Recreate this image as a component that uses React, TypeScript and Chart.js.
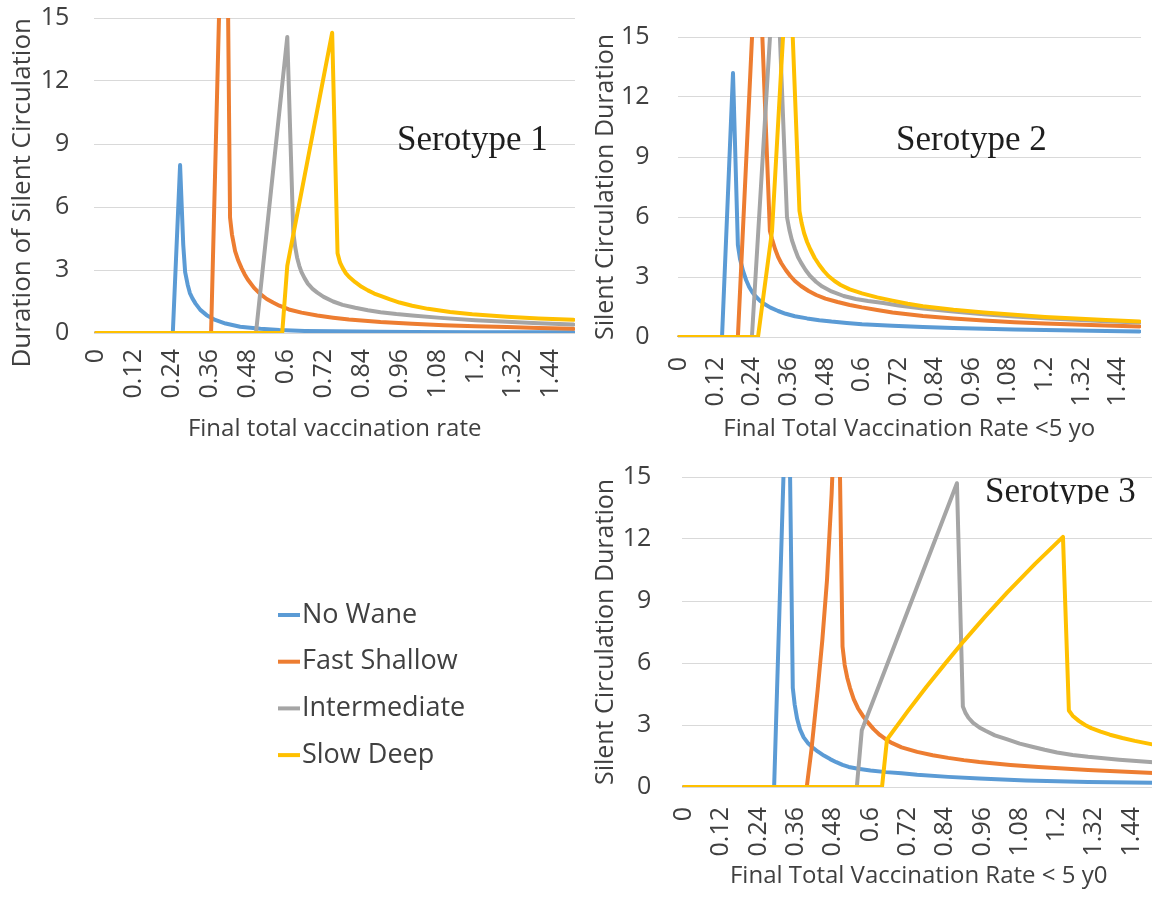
import React, { useEffect, useRef } from 'react';
import { Chart, registerables } from 'chart.js';

Chart.register(...registerables);

const FONT = '"Open Sans", "DejaVu Sans", sans-serif';
const SERIF = '"Liberation Serif", "DejaVu Serif", serif';
const TEXT = '#404040';
const GRID = '#d9d9d9';

// ---- legend / series ----
const seriesNames = ['No Wane', 'Fast Shallow', 'Intermediate', 'Slow Deep'];
const seriesColors = ['#5B9BD5', '#ED7D31', '#A5A5A5', '#FFC000'];

// ---- axis ticks ----
const xTickValues = [0, 0.12, 0.24, 0.36, 0.48, 0.6, 0.72, 0.84, 0.96, 1.08, 1.2, 1.32, 1.44];
const xTickLabels = ['0', '0.12', '0.24', '0.36', '0.48', '0.6', '0.72', '0.84', '0.96', '1.08', '1.2', '1.32', '1.44'];
const yTickValues = [0, 3, 6, 9, 12, 15];
const yTickLabels = ['0', '3', '6', '9', '12', '15'];

type Pt = [number, number];

// ---- Serotype 1 : [vaccination rate, duration] ----
const s1NoWane: Pt[] = [[0, 0], [0.243, 0], [0.266, 8.0], [0.276, 4.2], [0.282, 2.9], [0.29, 2.3], [0.297, 1.9], [0.305, 1.65], [0.315, 1.4], [0.33, 1.1], [0.35, 0.85], [0.377, 0.62], [0.41, 0.45], [0.456, 0.3], [0.52, 0.2], [0.58, 0.14], [0.66, 0.1], [0.75, 0.08], [0.9, 0.06], [1.0, 0.05], [1.2, 0.04], [1.51, 0.03]];
const s1FastShallow: Pt[] = [[0, 0], [0.364, 0], [0.41, 27.6], [0.424, 5.5], [0.43, 4.7], [0.44, 3.9], [0.45, 3.45], [0.46, 3.1], [0.47, 2.8], [0.48, 2.55], [0.5, 2.15], [0.52, 1.85], [0.54, 1.62], [0.56, 1.45], [0.58, 1.3], [0.61, 1.12], [0.65, 0.97], [0.7, 0.83], [0.75, 0.73], [0.8, 0.64], [0.9, 0.52], [1.0, 0.44], [1.1, 0.37], [1.2, 0.32], [1.3, 0.28], [1.4, 0.24], [1.51, 0.2]];
const s1Intermediate: Pt[] = [[0, 0], [0.506, 0], [0.605, 14.1], [0.624, 4.8], [0.63, 4.1], [0.636, 3.6], [0.643, 3.2], [0.65, 2.9], [0.66, 2.6], [0.67, 2.35], [0.685, 2.1], [0.7, 1.92], [0.72, 1.72], [0.75, 1.5], [0.78, 1.34], [0.82, 1.2], [0.86, 1.08], [0.9, 0.99], [0.95, 0.9], [1.0, 0.83], [1.09, 0.72], [1.2, 0.61], [1.3, 0.53], [1.4, 0.46], [1.51, 0.4]];
const s1SlowDeep: Pt[] = [[0, 0], [0.589, 0], [0.605, 3.2], [0.747, 14.3], [0.764, 3.8], [0.772, 3.35], [0.78, 3.1], [0.79, 2.85], [0.8, 2.68], [0.82, 2.42], [0.84, 2.2], [0.86, 2.03], [0.88, 1.88], [0.9, 1.77], [0.93, 1.6], [0.96, 1.45], [1.0, 1.3], [1.05, 1.15], [1.12, 1.0], [1.19, 0.89], [1.3, 0.77], [1.4, 0.69], [1.51, 0.63]];

// ---- Serotype 2 ----
const s2NoWane: Pt[] = [[0, 0], [0.141, 0], [0.177, 13.2], [0.193, 4.6], [0.2, 3.9], [0.21, 3.3], [0.22, 2.85], [0.23, 2.5], [0.24, 2.25], [0.25, 2.05], [0.265, 1.82], [0.28, 1.65], [0.3, 1.47], [0.325, 1.3], [0.35, 1.16], [0.38, 1.04], [0.42, 0.93], [0.46, 0.84], [0.5, 0.77], [0.55, 0.7], [0.6, 0.64], [0.7, 0.56], [0.8, 0.5], [0.9, 0.45], [1.0, 0.41], [1.1, 0.38], [1.2, 0.35], [1.3, 0.32], [1.4, 0.3], [1.51, 0.28]];
const s2FastShallow: Pt[] = [[0, 0], [0.193, 0], [0.258, 21], [0.298, 5.3], [0.305, 4.9], [0.315, 4.4], [0.325, 4.0], [0.335, 3.7], [0.35, 3.35], [0.365, 3.05], [0.38, 2.8], [0.4, 2.55], [0.425, 2.3], [0.45, 2.1], [0.48, 1.92], [0.52, 1.75], [0.56, 1.6], [0.6, 1.48], [0.65, 1.35], [0.7, 1.23], [0.8, 1.05], [0.9, 0.92], [1.0, 0.82], [1.1, 0.74], [1.2, 0.67], [1.3, 0.62], [1.4, 0.57], [1.51, 0.53]];
const s2Intermediate: Pt[] = [[0, 0], [0.239, 0], [0.318, 20], [0.354, 6.0], [0.362, 5.35], [0.37, 4.85], [0.38, 4.4], [0.39, 4.0], [0.4, 3.72], [0.415, 3.35], [0.43, 3.05], [0.45, 2.75], [0.47, 2.52], [0.5, 2.28], [0.54, 2.05], [0.58, 1.9], [0.62, 1.8], [0.67, 1.7], [0.72, 1.58], [0.8, 1.43], [0.9, 1.27], [1.0, 1.14], [1.1, 1.03], [1.2, 0.94], [1.3, 0.86], [1.4, 0.79], [1.51, 0.72]];
const s2SlowDeep: Pt[] = [[0, 0], [0.259, 0], [0.305, 5.3], [0.36, 20.1], [0.395, 6.3], [0.402, 5.7], [0.41, 5.2], [0.42, 4.75], [0.43, 4.4], [0.445, 3.95], [0.46, 3.6], [0.475, 3.3], [0.49, 3.05], [0.51, 2.8], [0.53, 2.6], [0.56, 2.38], [0.6, 2.18], [0.65, 1.98], [0.7, 1.82], [0.75, 1.66], [0.8, 1.54], [0.9, 1.36], [1.0, 1.22], [1.1, 1.11], [1.2, 1.0], [1.3, 0.92], [1.4, 0.85], [1.51, 0.78]];

// ---- Serotype 3 ----
const s3NoWane: Pt[] = [[0, 0], [0.29, 0], [0.335, 22.5], [0.35, 4.8], [0.356, 4.0], [0.364, 3.3], [0.373, 2.8], [0.385, 2.4], [0.4, 2.1], [0.415, 1.9], [0.43, 1.72], [0.45, 1.52], [0.47, 1.35], [0.49, 1.2], [0.51, 1.07], [0.53, 0.97], [0.56, 0.88], [0.6, 0.8], [0.65, 0.72], [0.7, 0.66], [0.75, 0.59], [0.85, 0.49], [0.95, 0.41], [1.1, 0.32], [1.3, 0.24], [1.51, 0.2]];
const s3FastShallow: Pt[] = [[0, 0], [0.395, 0], [0.41, 1.8], [0.43, 4.7], [0.445, 7.1], [0.46, 10], [0.475, 14.2], [0.495, 22], [0.51, 6.8], [0.517, 5.9], [0.525, 5.3], [0.534, 4.8], [0.546, 4.25], [0.56, 3.8], [0.575, 3.45], [0.59, 3.15], [0.61, 2.8], [0.63, 2.52], [0.65, 2.3], [0.67, 2.12], [0.7, 1.92], [0.75, 1.7], [0.8, 1.54], [0.85, 1.41], [0.9, 1.3], [0.95, 1.21], [1.05, 1.07], [1.14, 0.97], [1.3, 0.82], [1.51, 0.68]];
const s3Intermediate: Pt[] = [[0, 0], [0.556, 0], [0.572, 2.75], [0.878, 14.7], [0.897, 3.9], [0.905, 3.6], [0.915, 3.35], [0.93, 3.1], [0.95, 2.88], [0.97, 2.72], [1.0, 2.5], [1.04, 2.3], [1.08, 2.1], [1.12, 1.95], [1.16, 1.8], [1.2, 1.67], [1.25, 1.55], [1.3, 1.46], [1.4, 1.32], [1.51, 1.2]];
const s3SlowDeep: Pt[] = [[0, 0], [0.637, 0], [0.653, 2.3], [0.72, 3.67], [0.78, 4.85], [0.84, 5.97], [0.9, 7.06], [0.97, 8.27], [1.04, 9.42], [1.13, 10.81], [1.219, 12.1], [1.238, 3.7], [1.25, 3.45], [1.27, 3.2], [1.29, 3.0], [1.31, 2.85], [1.34, 2.68], [1.37, 2.53], [1.41, 2.37], [1.45, 2.23], [1.51, 2.05]];

// ---- text ----
const chartTitles = ['Serotype 1', 'Serotype 2', 'Serotype 3'];
const xTitles = ['Final total vaccination rate', 'Final Total Vaccination Rate <5 yo', 'Final Total Vaccination Rate < 5 y0'];
const yTitles = ['Duration of Silent Circulation', 'Silent Circulation Duration', 'Silent Circulation Duration'];

type Layout = {
  left: number; top: number; width: number; height: number;
  padding: { top: number; right: number; bottom: number; left: number };
  yAxisWidth: number; xAxisHeight: number;
  yTickLength: number; xTickLength: number;
  yTitleSize: number; yTitlePad: number; yTitleAlign: 'start' | 'center' | 'end';
  label: { x: number; y: number; clipBottom?: number };
};

const layouts: Layout[] = [
  {
    left: 0, top: 0, width: 590, height: 450,
    padding: { top: 18, right: 15, bottom: 2, left: 0 },
    yAxisWidth: 94.4, xAxisHeight: 115, yTickLength: 22, xTickLength: 13,
    yTitleSize: 26, yTitlePad: 7, yTitleAlign: 'end',
    label: { x: 397, y: 150 },
  },
  {
    left: 590, top: 0, width: 562, height: 450,
    padding: { top: 37, right: 11, bottom: 2, left: 0 },
    yAxisWidth: 87.5, xAxisHeight: 111, yTickLength: 25, xTickLength: 17,
    yTitleSize: 25, yTitlePad: 1, yTitleAlign: 'center',
    label: { x: 306, y: 150 },
  },
  {
    left: 590, top: 450, width: 580, height: 448,
    padding: { top: 27, right: 15, bottom: 3, left: 0 },
    yAxisWidth: 92.4, xAxisHeight: 108, yTickLength: 28, xTickLength: 17,
    yTitleSize: 25, yTitlePad: 1, yTitleAlign: 'center',
    label: { x: 395, y: 52, clipBottom: 54 },
  },
];

const allSeries: Pt[][][] = [
  [s1NoWane, s1FastShallow, s1Intermediate, s1SlowDeep],
  [s2NoWane, s2FastShallow, s2Intermediate, s2SlowDeep],
  [s3NoWane, s3FastShallow, s3Intermediate, s3SlowDeep],
];

const seroLabelPlugin = {
  id: 'seroLabel',
  afterDatasetsDraw(chart: any, _args: any, opts: any) {
    const ctx = chart.ctx as CanvasRenderingContext2D;
    ctx.save();
    if (opts.clipBottom != null) {
      ctx.beginPath();
      ctx.rect(0, 0, chart.width, opts.clipBottom);
      ctx.clip();
    }
    ctx.font = `35px ${SERIF}`;
    ctx.fillStyle = '#1e1e1e';
    ctx.textAlign = 'left';
    ctx.textBaseline = 'alphabetic';
    ctx.fillText(opts.text, opts.x, opts.y);
    ctx.restore();
  },
};

function makeLineConfig(idx: number): any {
  const L = layouts[idx];
  const series = allSeries[idx];
  return {
    type: 'line',
    data: {
      datasets: series.map((pts, i) => ({
        label: seriesNames[i],
        data: pts.map(([x, y]) => ({ x, y })),
        borderColor: seriesColors[i],
        backgroundColor: seriesColors[i],
        borderWidth: 4,
        borderCapStyle: 'round',
        borderJoinStyle: 'round',
        pointRadius: 0,
        pointHoverRadius: 0,
        fill: false,
        tension: 0,
        order: 4 - i,
      })),
    },
    options: {
      responsive: false,
      animation: false,
      devicePixelRatio: 1,
      events: [],
      layout: { padding: L.padding },
      plugins: {
        legend: { display: false },
        tooltip: { enabled: false },
        seroLabel: { text: chartTitles[idx], x: L.label.x, y: L.label.y, clipBottom: L.label.clipBottom },
      },
      scales: {
        x: {
          type: 'linear',
          min: -0.005,
          max: 1.515,
          afterBuildTicks: (s: any) => { s.ticks = xTickValues.map((v) => ({ value: v })); },
          afterFit: (s: any) => { s.height = L.xAxisHeight; },
          grid: { display: true, drawOnChartArea: false, drawTicks: true, tickLength: L.xTickLength, tickColor: 'rgba(0,0,0,0)' },
          border: { display: false },
          ticks: {
            autoSkip: false, maxRotation: 90, minRotation: 90, padding: 3, color: TEXT,
            font: { family: FONT, size: 25 },
            callback: (_v: any, i: number) => xTickLabels[i],
          },
          title: {
            display: true, text: xTitles[idx], color: TEXT,
            font: { family: FONT, size: 24 }, padding: { top: 0, bottom: 4 },
          },
        },
        y: {
          type: 'linear',
          min: 0,
          max: 15,
          afterBuildTicks: (s: any) => { s.ticks = yTickValues.map((v) => ({ value: v })); },
          afterFit: (s: any) => { s.width = L.yAxisWidth; },
          grid: { color: GRID, lineWidth: 1, drawTicks: true, tickLength: L.yTickLength, tickColor: 'rgba(0,0,0,0)' },
          border: { display: false },
          ticks: {
            padding: 3, color: TEXT, font: { family: FONT, size: 25 },
            callback: (_v: any, i: number) => yTickLabels[i],
          },
          title: {
            display: true, text: yTitles[idx], color: TEXT, align: L.yTitleAlign,
            font: { family: FONT, size: L.yTitleSize }, padding: { top: L.yTitlePad, bottom: 0 },
          },
        },
      },
    },
    plugins: [seroLabelPlugin],
  };
}

// legend placement (canvas-local)
const legendBox = { left: 250, top: 585, width: 240, height: 200 };
const legendItems = { firstY: 30, spacing: 46.7, lineX0: 28, lineX1: 50, textX: 52, fontSize: 27 };

const sideLegendPlugin = {
  id: 'sideLegend',
  afterDraw(chart: any, _a: any, opts: any) {
    const ctx = chart.ctx as CanvasRenderingContext2D;
    ctx.save();
    chart.data.datasets.forEach((ds: any, i: number) => {
      const y = opts.firstY + i * opts.spacing;
      ctx.strokeStyle = ds.borderColor;
      ctx.lineWidth = 4;
      ctx.lineCap = 'butt';
      ctx.beginPath();
      ctx.moveTo(opts.lineX0, y);
      ctx.lineTo(opts.lineX1, y);
      ctx.stroke();
      ctx.fillStyle = TEXT;
      ctx.font = `${opts.fontSize}px ${FONT}`;
      ctx.textAlign = 'left';
      ctx.textBaseline = 'middle';
      ctx.fillText(ds.label, opts.textX, y);
    });
    ctx.restore();
  },
};

function makeLegendConfig(): any {
  return {
    type: 'line',
    data: {
      datasets: seriesNames.map((n, i) => ({ label: n, data: [], borderColor: seriesColors[i], backgroundColor: seriesColors[i] })),
    },
    options: {
      responsive: false,
      animation: false,
      devicePixelRatio: 1,
      events: [],
      scales: { x: { display: false }, y: { display: false } },
      plugins: { legend: { display: false }, tooltip: { enabled: false }, sideLegend: legendItems },
    },
    plugins: [sideLegendPlugin],
  };
}

function ChartCanvas(props: { make: () => any; left: number; top: number; width: number; height: number }) {
  const ref = useRef<HTMLCanvasElement>(null);
  useEffect(() => {
    const chart = new Chart(ref.current as HTMLCanvasElement, props.make());
    return () => chart.destroy();
  }, []);
  return (
    <canvas
      ref={ref}
      width={props.width}
      height={props.height}
      style={{ position: 'absolute', left: props.left, top: props.top, width: props.width, height: props.height, display: 'block' }}
    />
  );
}

export default function App() {
  return (
    <div style={{ position: 'absolute', left: 0, top: 0, width: 1152, height: 898, overflow: 'hidden', background: '#ffffff' }}>
      {layouts.map((L, i) => (
        <ChartCanvas key={i} make={() => makeLineConfig(i)} left={L.left} top={L.top} width={L.width} height={L.height} />
      ))}
      <ChartCanvas make={makeLegendConfig} left={legendBox.left} top={legendBox.top} width={legendBox.width} height={legendBox.height} />
    </div>
  );
}
